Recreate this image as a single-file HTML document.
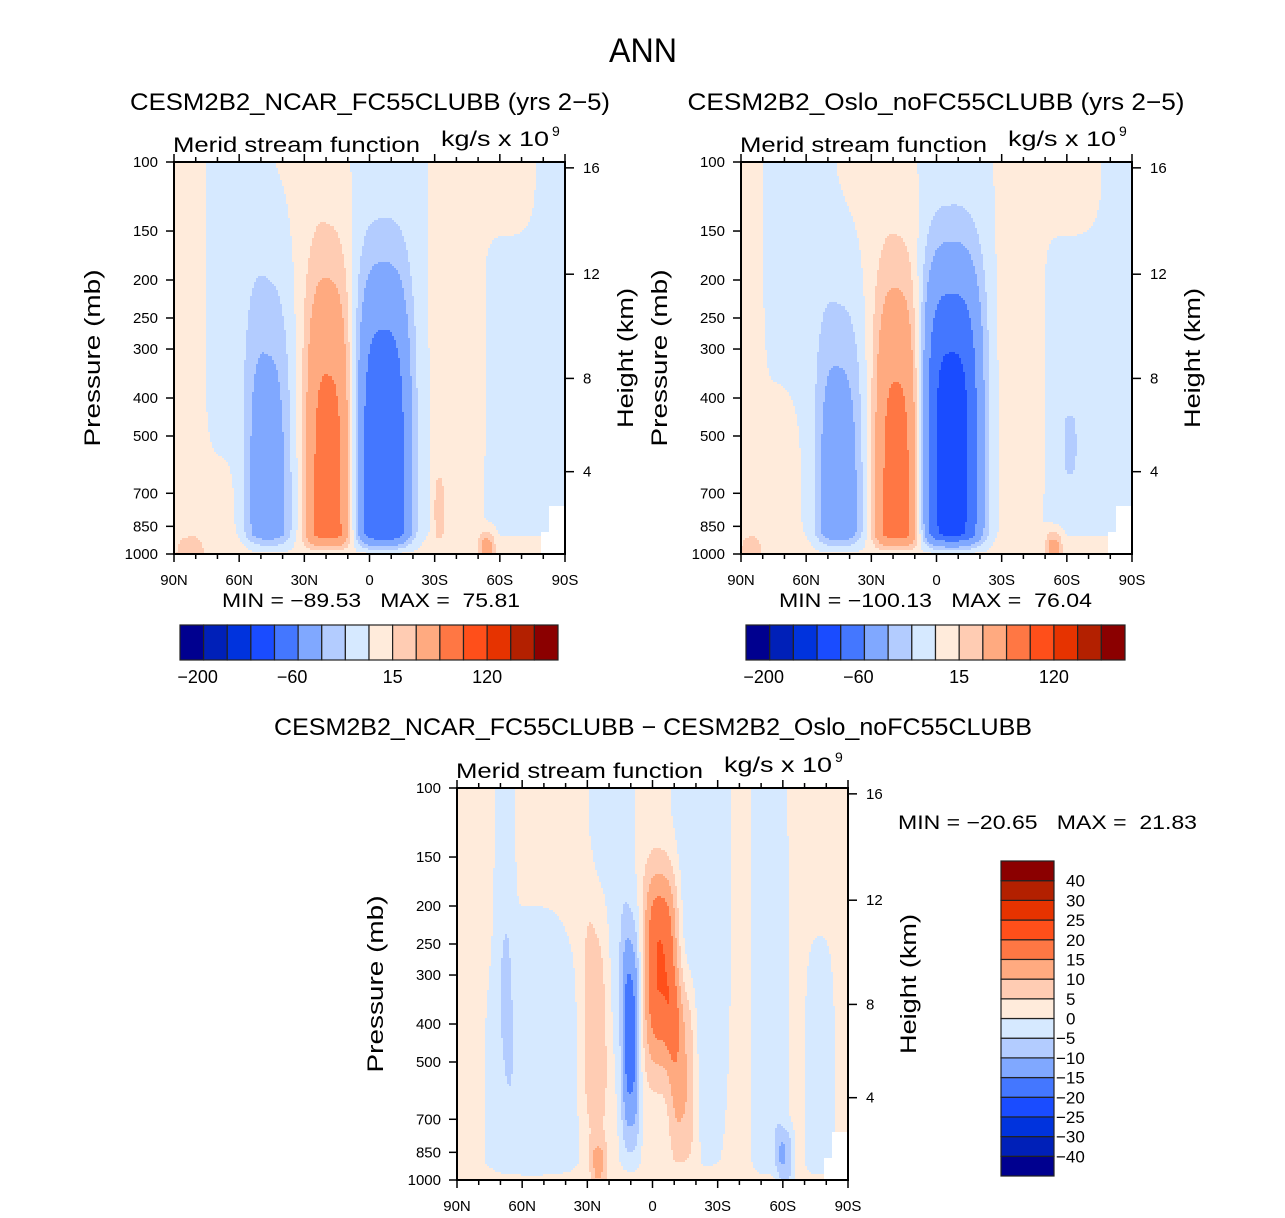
<!DOCTYPE html>
<html><head><meta charset="utf-8"><title>ANN Merid stream function</title>
<style>
html,body{margin:0;padding:0;background:#fff;}
svg{display:block;font-family:"Liberation Sans",sans-serif;}
</style></head>
<body>
<svg id="chart" width="1285" height="1218" viewBox="0 0 1285 1218" xmlns="http://www.w3.org/2000/svg">
<rect x="0" y="0" width="1285" height="1218" fill="#fff"/>
<text x="643" y="62" font-size="34" text-anchor="middle" textLength="68" lengthAdjust="spacingAndGlyphs">ANN</text>
</svg>
<script>
// ---- contour levels & palette ----
const levelsAbs = [-200,-160,-120,-90,-60,-30,-15,0,15,30,60,90,120,160,200];
const levelsDiff = [-40,-30,-25,-20,-15,-10,-5,0,5,10,15,20,25,30,40];
const palette = ["#00008f","#0020b8","#0033dd","#1a4cff","#4477ff","#80a8ff","#b3ccff","#d6e9ff","#ffebdb","#ffccb3","#ffaa80","#ff7744","#ff4f1a","#e63300","#b32000","#8b0000"];
const pressureTicks = [100,150,200,250,300,400,500,700,850,1000];
const heightTicks = [4,8,12,16];
const heightPressures = [616.6,356.5,193.3,103.5];
const latTicks = [90,60,30,0,-30,-60,-90];
const latTickLabels = ["90N","60N","30N","0","30S","60S","90S"];

// ---- panel 1 (NCAR) field components ----
const p1Amp  = [76, -85, -42, -3, 8, 6, 10, 10, 8, 20, 6, 35];
const p1Lat  = [19, -6.5, 47, 0, 84, 31, -40, -63, 75, -32, 0, -54];
const p1P    = [890, 686, 890, 316, 316, 100, 316, 100, 1000, 794, 1000, 980];
const p1WLat = [8.5, 10, 8.5, 400, 7, 17, 10, 10, 15, 2, 400, 3];
const p1WTop = [0.52, 0.44, 0.52, 5, 1, 1, 1.5, 1, 0.2, 0.09, 0.04, 0.04];
const p1WBot = [0.5, 0.4, 0.4, 5, 1, 0.55, 0.5, 0.14, 1, 0.06, 1, 0.1];
const p1Taper= [1,1,1,0,0,1,1,1,0,1,0,0];

// ---- panel 2 (Oslo) ----
const p2Amp  = [76, -100, -44, -3, 8, 6, 10, 10, 8, -22, 6, 35];
const p2Lat  = [18, -7, 45, 0, 86, 29, -38, -60, 78, -61.5, 0, -54];
const p2P    = [890, 550, 890, 316, 316, 100, 316, 100, 1000, 525, 1000, 980];
const p2WLat = [8.5, 11, 8.5, 400, 5, 17, 9, 12, 14, 2.6, 400, 3];
const p2WTop = [0.5, 0.39, 0.46, 5, 1, 1, 1.5, 1, 0.35, 0.07, 0.04, 0.04];
const p2WBot = [0.5, 0.45, 0.4, 5, 1, 0.55, 0.5, 0.14, 1, 0.07, 1, 0.1];
const p2Taper= [1,1,1,0,0,1,1,1,0,1,0,0];

// ---- panel 3 (difference) ----
const p3Amp  = [1.5, -6, -5, -5, -17.5, 19, 12, 9, 9, -6, -6, -6, -9];
const p3Lat  = [0, 55, 68, 19, 10, -4, -14, 26, 25, -22, -54, -77, -61];
const p3P    = [316, 708, 126, 126, 447, 282, 525, 380, 933, 158, 316, 631, 871];
const p3WLat = [400, 16, 3.5, 8, 3.5, 6.5, 5, 5, 3, 10, 6, 5, 3];
const p3WTop = [5, 0.39, 1, 1, 0.24, 0.2, 0.2, 0.26, 0.06, 1, 1, 0.3, 0.06];
const p3WBot = [5, 0.6, 0.5, 0.5, 0.22, 0.22, 0.2, 0.26, 0.05, 0.6, 1, 0.5, 0.08];
const p3Taper= [0,1,1,1,1,1,1,1,0,1,1,1,0];

const NS = "http://www.w3.org/2000/svg";
const svg = document.getElementById("chart");
const PW = 391, PH = 392;
const SHAPE_POW = 3;
function mk(tag, attrs, parent){
  const e = document.createElementNS(NS, tag);
  for (const k in attrs) e.setAttribute(k, attrs[k]);
  (parent||svg).appendChild(e);
  return e;
}
function sOf(p){ return Math.log10(p/100); }
function yScale(p, top){ return top + PH*sOf(p); }
function xScale(lat, left){ return left + PW*(90-lat)/180; }
function fieldValue(lat, s, amp, la, pp, wl, wt, wb, tp){
  let v = 0;
  for (let i=0;i<amp.length;i++){
    const s0 = sOf(pp[i]);
    const dl = Math.abs(lat-la[i])/wl[i];
    const ds = Math.abs(s < s0 ? (s-s0)/wt[i] : (s-s0)/wb[i]);
    let c = amp[i]*Math.exp(-0.5*(Math.pow(dl,SHAPE_POW) + Math.pow(ds,SHAPE_POW)));
    if (tp[i]) c *= Math.min(1, (1-s)/0.05);
    v += c;
  }
  return v;
}
function colorIndex(v, levels){
  let k = 0;
  for (const l of levels) if (v >= l) k++;
  return k;
}
function text(str, x, y, size, attrs, name){
  const t = mk("text", Object.assign({x:x, y:y, "font-size":size}, attrs||{}));
  t.textContent = str;
  
  
  return t;
}

function drawPanel(cfg){
  const {left, top, id} = cfg;
  const g = mk("g", {});
  
  
  const clipId = id + "-clip";
  const cp = mk("clipPath", {id: clipId}, g);
  mk("rect", {x:left, y:top, width:PW, height:PH}, cp);
  const fg = mk("g", {"clip-path":"url(#"+clipId+")", "shape-rendering":"crispEdges"}, g);
  
  
  const step = 2;
  for (let j=0;j<PH;j+=step){
    const s = (j+step/2)/PH;
    let runStart = 0, runCol = null, i = 0;
    for (i=0;i<PW;i+=step){
      const lat = 90 - (i+step/2)/PW*180;
      const v = fieldValue(lat, s, cfg.amp, cfg.lat, cfg.p, cfg.wl, cfg.wt, cfg.wb, cfg.tp);
      const col = palette[colorIndex(v, cfg.levels)];
      if (col !== runCol){
        if (runCol !== null){
          mk("rect", {x:left+runStart, y:top+j, width:i-runStart+0.6, height:step+0.6, fill:runCol}, fg);
        }
        runStart = i; runCol = col;
      }
    }
    mk("rect", {x:left+runStart, y:top+j, width:PW-runStart+2, height:step+0.6, fill:runCol}, fg);
  }
  const wc = mk("polygon", {points:[
    [left+PW-16, top+PH-48],[left+PW, top+PH-48],[left+PW, top+PH],[left+PW-24, top+PH],
    [left+PW-24, top+PH-22],[left+PW-16, top+PH-22]].map(a=>a.join(",")).join(" "), fill:"#fff"}, fg);
  
  
  const fr = mk("rect", {x:left, y:top, width:PW, height:PH, fill:"none", stroke:"#000", "stroke-width":2}, g);
  
  
  pressureTicks.forEach(p=>{
    const y = yScale(p, top);
    mk("line", {x1:left-8, x2:left, y1:y, y2:y, stroke:"#000", "stroke-width":1.5}, g);
    text(String(p), left-16, y+5, 15, {"text-anchor":"end"}, id+'-pressure-tick-label');
  });
  heightTicks.forEach((h,k)=>{
    const y = yScale(heightPressures[k], top);
    mk("line", {x1:left+PW, x2:left+PW+9, y1:y, y2:y, stroke:"#000", "stroke-width":1.5}, g);
    text(String(h), left+PW+18, y+5, 15, {}, id+'-height-tick-label');
  });
  for (let lat=90; lat>=-90; lat-=10){
    const x = xScale(lat, left);
    const major = (lat % 30 === 0);
    const len = major ? 8 : 5;
    mk("line", {x1:x, x2:x, y1:top+PH, y2:top+PH+len, stroke:"#000", "stroke-width":1.5}, g);
    mk("line", {x1:x, x2:x, y1:top, y2:top-len, stroke:"#000", "stroke-width":1.5}, g);
  }
  latTicks.forEach((lat,k)=>{
    text(latTickLabels[k], xScale(lat,left), top+PH+31, 15, {"text-anchor":"middle"}, id+'-lat-tick-label');
  });
  text("Merid stream function", left-1, top-10, 21, {textLength:247, lengthAdjust:"spacingAndGlyphs"}, id+'-variable-label');
  text("kg/s x 10", left+267, top-16, 21, {textLength:108, lengthAdjust:"spacingAndGlyphs"}, id+'-units-label');
  text("9", left+378, top-26, 14, {}, id+'-units-exponent');
  text("Pressure (mb)", 0, 0, 22, {"text-anchor":"middle", textLength:177, lengthAdjust:"spacingAndGlyphs",
    transform:"translate("+(left-74)+","+(top+196)+") rotate(-90)"}, id+'-y-axis-title');
  text("Height (km)", 0, 0, 22, {"text-anchor":"middle", textLength:140, lengthAdjust:"spacingAndGlyphs",
    transform:"translate("+(left+PW+68)+","+(top+196)+") rotate(-90)"}, id+'-y2-axis-title');
}

function hColorbar(left, top, w, h, levels, labelsIdx, id){
  const g = mk("g", {});
  
  
  const bw = w/palette.length;
  palette.forEach((c,k)=>{
    const r = mk("rect", {x:left+k*bw, y:top, width:bw, height:h, fill:c, stroke:"#222", "stroke-width":1.2}, g);
    
    
  });
  labelsIdx.forEach(k=>{
    const v = levels[k];
    const s = (v<0 ? "\u2212" + Math.abs(v) : String(v));
    text(s, left+(k+1)*bw - (v<0?6:0), top+h+23, 18, {"text-anchor":"middle"}, 'colorbar-label');
  });
}
function vColorbar(left, top, w, h, levels, id){
  const g = mk("g", {});
  
  
  const bh = h/palette.length;
  palette.forEach((c,k)=>{
    const r = mk("rect", {x:left, y:top+(palette.length-1-k)*bh, width:w, height:bh, fill:c, stroke:"#222", "stroke-width":1.2}, g);
    
    
  });
  levels.forEach((v,k)=>{
    const y = top + (palette.length-1-k)*bh;
    const s = (v<0 ? "\u2212" + Math.abs(v) : String(v));
    text(s, left+w+(v<0?2:12), y+6, 17, {}, 'colorbar-label');
  });
}

text("CESM2B2_NCAR_FC55CLUBB (yrs 2\u22125)", 370, 110, 24, {"text-anchor":"middle", textLength:480, lengthAdjust:"spacingAndGlyphs"}, 'panel1-title');
text("CESM2B2_Oslo_noFC55CLUBB (yrs 2\u22125)", 936, 110, 24, {"text-anchor":"middle", textLength:497, lengthAdjust:"spacingAndGlyphs"}, 'panel2-title');
text("CESM2B2_NCAR_FC55CLUBB \u2212 CESM2B2_Oslo_noFC55CLUBB", 653, 735, 24, {"text-anchor":"middle", textLength:758, lengthAdjust:"spacingAndGlyphs"}, 'panel3-title');

drawPanel({id:"panel1", left:174, top:162, levels:levelsAbs, amp:p1Amp, lat:p1Lat, p:p1P, wl:p1WLat, wt:p1WTop, wb:p1WBot, tp:p1Taper});
drawPanel({id:"panel2", left:741, top:162, levels:levelsAbs, amp:p2Amp, lat:p2Lat, p:p2P, wl:p2WLat, wt:p2WTop, wb:p2WBot, tp:p2Taper});
drawPanel({id:"panel3", left:457, top:788, levels:levelsDiff, amp:p3Amp, lat:p3Lat, p:p3P, wl:p3WLat, wt:p3WTop, wb:p3WBot, tp:p3Taper});

const mm = {style:"white-space:pre", lengthAdjust:"spacingAndGlyphs"};
text("MIN = \u221289.53   MAX =  75.81", 222, 607, 19, Object.assign({textLength:298}, mm), 'panel1-min-max');
text("MIN = \u2212100.13   MAX =  76.04", 779, 607, 19, Object.assign({textLength:313}, mm), 'panel2-min-max');
text("MIN = \u221220.65   MAX =  21.83", 898, 829, 19, Object.assign({textLength:299}, mm), 'panel3-min-max');

hColorbar(180, 625, 378, 35, levelsAbs, [0,4,8,12], 'panel1-colorbar');
hColorbar(746, 625, 379, 35, levelsAbs, [0,4,8,12], 'panel2-colorbar');
vColorbar(1001, 861, 53, 315, levelsDiff, 'panel3-colorbar');
</script>
</body></html>
